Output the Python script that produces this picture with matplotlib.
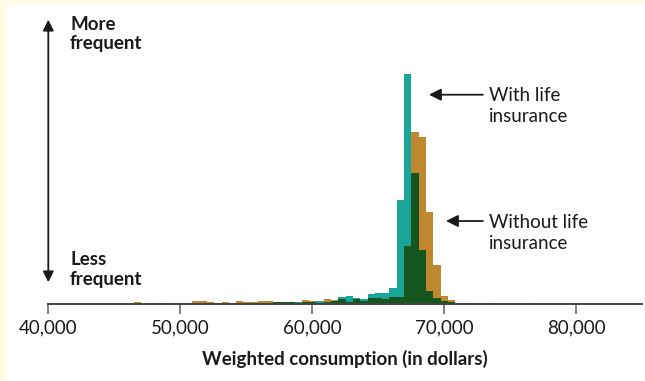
import numpy as np
import matplotlib
matplotlib.use("Agg")
import matplotlib.pyplot as plt
from matplotlib.patches import Rectangle, FancyArrowPatch

plt.rcParams['font.family'] = ['Lato', 'DejaVu Sans']

# ---- data (relative frequency per bin) ----
bin_start = 46515
bin_width = 553
with_life = [0, 0, 0, 0.3, 0.3, 0, 0.3, 0, 0, 0,
             0, 0.5, 0, 0.3, 0, 0.5, 0.3, 0.5, 0.5, 1.2,
             1.8, 1.2, 1.8, 1.5, 2.0, 3.0, 1.5, 2.5, 6.5, 7.5,
             5.2, 5.0, 9.5, 10.5, 10.8, 15.5, 103.5, 229.5, 130.2, 53.5,
             12.8, 5.8, 3.0, 1.5, 1.0, 0.5, 1.0, 0.3, 0.5, 0.5,
             0, 0, 0, 0, 0.6, 0, 0, 0, 0, 0,
             0, 0.6]
without_life = [1.8, 0, 0.8, 0.3, 0.3, 0.8, 0.3, 0.8, 2.8, 2.8,
                1.8, 0.8, 1.8, 0.3, 2.8, 1.3, 1.8, 2.8, 2.8, 1.8,
                1.5, 1.8, 1.0, 3.5, 2.5, 1.0, 4.5, 3.5, 4.5, 1.5,
                4.5, 2.5, 5.5, 5.5, 5.0, 7.0, 7.0, 57.5, 171.8, 166.5,
                91.5, 38.5, 8.0, 3.5, 1.0, 1.0, 0.3, 0, 0.3, 0.3,
                0, 0, 0, 0, 0.5, 0, 0, 0, 0, 0,
                0, 0.5]
xticks = [40000, 50000, 60000, 70000, 80000]
xtick_labels = ["40,000", "50,000", "60,000", "70,000", "80,000"]
xlabel = "Weighted consumption (in dollars)"

TEAL = "#1AA59B"
ORANGE = "#C0882E"
DARK = "#14561D"
CREAM = "#FFFAE2"
INK = "#1A1A1A"
FS = 13.5

W, H = 645, 381
fig = plt.figure(figsize=(W / 100, H / 100), dpi=100)
fig.patch.set_facecolor(CREAM)
fig.add_artist(Rectangle((7 / W, 0), 1 - 7 / W, 1 - 4 / H, transform=fig.transFigure,
                         facecolor="white", edgecolor="none", zorder=0))

ax_l, ax_r, ax_b, ax_t = 48, 642, 303.5, 16
ax = fig.add_axes([ax_l / W, 1 - ax_b / H, (ax_r - ax_l) / W, (ax_b - ax_t) / H])
ax.set_facecolor("none")

w = np.array(with_life)
wo = np.array(without_life)
edges = bin_start + bin_width * np.arange(len(w))
ax.bar(edges, w, width=bin_width, align="edge", color=TEAL, linewidth=0, zorder=2)
ax.bar(edges, wo, width=bin_width, align="edge", color=ORANGE, linewidth=0, zorder=2)
ax.bar(edges, np.minimum(w, wo), width=bin_width, align="edge", color=DARK, linewidth=0, zorder=3)

ax.set_xlim(40000, 85000)
ax.set_ylim(0, ax_b - ax_t)
for s in ["top", "right", "left"]:
    ax.spines[s].set_visible(False)
ax.spines["bottom"].set_color("#444444")
ax.spines["bottom"].set_linewidth(1.4)
ax.spines["bottom"].set_zorder(4)
ax.set_yticks([])
ax.set_xticks(xticks)
ax.set_xticklabels(xtick_labels)
ax.tick_params(axis="x", length=7.5, width=1.3, color="#777777", pad=4,
               labelsize=FS, labelcolor=INK)
ax.set_xlabel(xlabel, fontsize=FS, fontweight="bold", color=INK, labelpad=10)

def fx(px):
    return px / W

def fy(py):
    return 1 - py / H

# vertical frequency arrow
fig.add_artist(FancyArrowPatch(
    (fx(48.3), fy(285)), (fx(48.3), fy(17)), transform=fig.transFigure,
    arrowstyle="<|-|>", mutation_scale=16, color=INK, linewidth=1.3))
for txt, py in [("More", 29.5), ("frequent", 49.5), ("Less", 265), ("frequent", 284.5)]:
    fig.text(fx(70), fy(py), txt, fontsize=FS, fontweight="bold", color=INK,
             ha="left", va="baseline")

# annotations
ax.annotate("", xy=(68860, 208.8), xytext=(72950, 208.8),
            arrowprops=dict(arrowstyle="-|>", mutation_scale=18, color=INK, lw=1.3,
                            shrinkA=0, shrinkB=0))
ax.annotate("", xy=(70150, 82.5), xytext=(72950, 82.5),
            arrowprops=dict(arrowstyle="-|>", mutation_scale=18, color=INK, lw=1.3,
                            shrinkA=0, shrinkB=0))
for txt, py in [("With life", 101), ("insurance", 122), ("Without life", 228), ("insurance", 249)]:
    fig.text(fx(489), fy(py), txt, fontsize=FS, color=INK, ha="left", va="baseline")

fig.savefig("out.png", dpi=100, facecolor=fig.get_facecolor())
